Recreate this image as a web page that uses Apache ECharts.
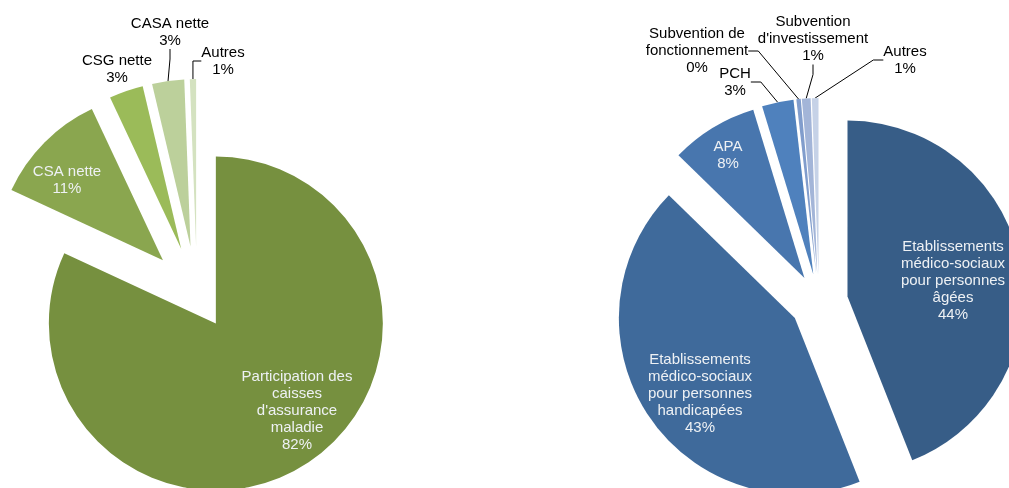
<!DOCTYPE html>
<html>
<head>
<meta charset="utf-8">
<script src="https://cdn.jsdelivr.net/npm/echarts@6/dist/echarts.min.js"></script>
<style>
  html, body { margin: 0; background: #fff; }
  #main { width: 1009px; height: 488px; }
</style>
</head>
<body>
<div id="main"></div>
<script>
// recettes (camembert vert)
var leftNames = ["Participation des\ncaisses\nd'assurance\nmaladie", 'CSA nette', 'CSG nette', 'CASA nette', 'Autres'];
var leftValues = [81.9, 11.1, 3.3, 3.1, 0.6];
var leftColors = ['#76903f', '#8aa64f', '#9bbb59', '#bcd09b', '#d4e2c0'];

// dépenses (camembert bleu)
var rightNames = [
  'Etablissements\nmédico-sociaux\npour personnes\nâgées',
  'Etablissements\nmédico-sociaux\npour personnes\nhandicapées',
  'APA', 'PCH', 'Subvention de\nfonctionnement', "Subvention\nd'investissement", 'Autres'
];
var rightValues = [44, 43.3, 8, 2.9, 0.4, 0.8, 0.6];
var rightColors = ['#375d87', '#3f6a9b', '#4876ae', '#4f81bd', '#819dcc', '#a3b5d8', '#c6d2e7'];

// mise en page : éclatement de chaque part et centre du bloc de texte
var leftLayout = {
  center: [197, 294], r: 167,
  explode: [35, 48, 48, 48, 48],
  labels: [
    { pos: [297, 411], inside: true },
    { pos: [67, 180], inside: true },
    { pos: [117, 69] },
    { pos: [170, 32], line: true },
    { pos: [223, 61], line: true }
  ]
};
var rightLayout = {
  center: [819, 302], r: 176,
  explode: [29, 29, 28, 28, 28, 28, 28],
  labels: [
    { pos: [953, 281], inside: true },
    { pos: [700, 394], inside: true },
    { pos: [728, 155], inside: true },
    { pos: [735, 82], line: true },
    { pos: [697, 51], line: true },
    { pos: [813, 39], line: true },
    { pos: [905, 60], line: true }
  ]
};

function sum(a) { return a.reduce(function (s, v) { return s + v; }, 0); }

// une série par part : même angles, centre déplacé le long de la bissectrice
function explodedPie(names, values, colors, lay) {
  var total = sum(values);
  var acc = 0;
  return values.map(function (v, k) {
    var mid = (acc + v / 2) / total * 2 * Math.PI;
    acc += v;
    var off = lay.explode[k];
    var cx = lay.center[0] + off * Math.sin(mid);
    var cy = lay.center[1] - off * Math.cos(mid);
    var lb = lay.labels[k];
    var data = values.map(function (w, i) {
      if (i !== k) {
        return { value: w, name: names[i], itemStyle: { opacity: 0 }, label: { show: false }, labelLine: { show: false } };
      }
      return {
        value: w, name: names[i],
        itemStyle: { color: colors[i] },
        label: {
          show: true,
          position: lb.inside ? 'inside' : 'outside',
          formatter: names[i] + '\n' + Math.round(w / total * 100) + '%',
          color: lb.inside ? '#eef1f4' : '#000'
        },
        labelLine: { show: !!lb.line }
      };
    });
    return {
      type: 'pie',
      center: [cx, cy],
      radius: [0, lay.r],
      startAngle: 90,
      clockwise: true,
      avoidLabelOverlap: false,
      silent: true,
      emphasis: { disabled: true },
      label: { fontFamily: 'Liberation Sans', fontSize: 15, lineHeight: 17, align: 'center' },
      labelLine: { length: 8, length2: 10, lineStyle: { color: '#000', width: 1 } },
      labelLayout: function () {
        return { x: lb.pos[0], y: lb.pos[1], align: 'center', verticalAlign: 'middle' };
      },
      data: data
    };
  });
}

var chart = echarts.init(document.getElementById('main'));
chart.setOption({
  animation: false,
  series: explodedPie(leftNames, leftValues, leftColors, leftLayout)
    .concat(explodedPie(rightNames, rightValues, rightColors, rightLayout))
});
</script>
</body>
</html>
